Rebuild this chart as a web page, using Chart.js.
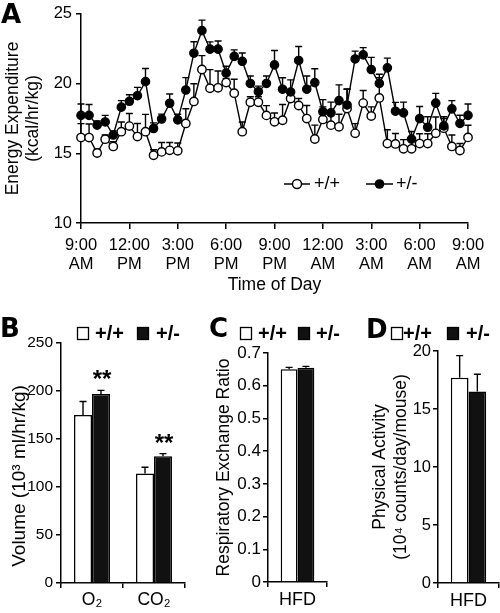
<!DOCTYPE html>
<html><head><meta charset="utf-8">
<script src="https://cdn.jsdelivr.net/npm/chart.js@4"></script>
<style>
html,body{margin:0;padding:0;background:#fff;}
#wrap{position:relative;width:500px;height:613px;overflow:hidden;background:#fff}
canvas{position:absolute;}
</style></head><body>
<div id="wrap">
<canvas id="cA" width="500" height="300" style="left:0;top:0"></canvas>
<canvas id="cB" width="190" height="313" style="left:0;top:300px"></canvas>
<canvas id="cC" width="165" height="313" style="left:190px;top:300px"></canvas>
<canvas id="cD" width="145" height="313" style="left:355px;top:300px"></canvas>
</div>
<script>
const FONT = '"Liberation Sans", Arial, Helvetica, sans-serif';
const LETTER_FONT = 'bold 26px "DejaVu Sans", "Liberation Sans", Arial, sans-serif';
const LEG_FONT = 'bold 20px "Liberation Sans", Arial, sans-serif';

// ---------- Panel A data ----------
const timeLabels = ["9:00 AM","9:30 AM","10:00 AM","10:30 AM","11:00 AM","11:30 AM",
  "12:00 PM","12:30 PM","1:00 PM","1:30 PM","2:00 PM","2:30 PM",
  "3:00 PM","3:30 PM","4:00 PM","4:30 PM","5:00 PM","5:30 PM",
  "6:00 PM","6:30 PM","7:00 PM","7:30 PM","8:00 PM","8:30 PM",
  "9:00 PM","9:30 PM","10:00 PM","10:30 PM","11:00 PM","11:30 PM",
  "12:00 AM","12:30 AM","1:00 AM","1:30 AM","2:00 AM","2:30 AM",
  "3:00 AM","3:30 AM","4:00 AM","4:30 AM","5:00 AM","5:30 AM",
  "6:00 AM","6:30 AM","7:00 AM","7:30 AM","8:00 AM","8:30 AM","9:00 AM"];
const tickEvery = 6;
const eeWT = [16.13,16.13,15.02,16.01,15.49,16.55,16.95,16.2,16.55,14.86,15.1,15.21,15.18,
  17.14,18.72,21.01,19.66,19.7,20.07,19.31,16.55,18.66,18.66,17.72,17.26,17.37,18.93,18.43,
  17.49,16.02,17.43,17.02,16.9,18.21,16.43,18.6,17.67,18.97,15.7,15.67,15.32,15.32,15.7,
  15.7,16.43,16.8,15.49,15.2,16.14];
const eeWTErr = [1.0,0.97,0.25,0.3,0.35,0.7,0.9,0.94,1.24,0.4,0.68,0.56,0.56,1.06,1.27,1.0,
  1.34,1.2,0.3,1.0,0.7,0.4,0.4,0.7,0.63,1.13,0.3,0.5,0.94,1.0,0.9,1.06,0.9,1.4,0.7,0.9,0.66,
  1.45,0.99,0.75,0.66,0.66,0.7,0.7,1.17,0.7,0.82,0.5,0.87];
const eeHet = [17.72,17.72,17.02,17.25,16.31,18.31,18.73,19.13,20.14,16.78,17.46,18.59,17.4,
  19.54,22.18,23.8,22.47,22.47,20.75,21.95,21.6,20.01,19.42,20.01,21.34,19.6,19.4,21.66,
  19.6,20.07,17.98,17.9,18.78,18.47,21.77,22.06,21.01,20.01,21.13,18.02,17.9,16.02,17.49,
  16.87,18.6,16.96,18.19,17.14,17.72];
const eeHetErr = [0.82,0.78,0.3,0.47,0.3,0.47,0.47,0.6,0.94,0.4,0.35,0.66,0.4,0.89,0.82,0.75,
  0.52,0.59,0.5,0.47,0.59,0.54,0.4,0.54,1.03,0.82,0.87,1.0,0.94,0.99,0.87,0.77,1.13,1.13,
  0.56,0.52,0.87,0.66,0.7,0.63,0.77,0.54,0.87,0.75,0.7,0.66,0.59,0.59,0.82];
const eeTicks = [10, 15, 20, 25];

// ---------- Panel B data ----------
const volCategories = ["O\u2082", "CO\u2082"];
const volWT = [175, 114];
const volWTErr = [14, 6.5];
const volHet = [197, 132];
const volHetErr = [3.6, 2.8];
const volSignif = ["**", "**"];

// ---------- Panel C data ----------
const dietCategories = ["HFD"];
const rerWT = [0.650];
const rerWTErr = [0.006];
const rerHet = [0.655];
const rerHetErr = [0.004];

// ---------- Panel D data ----------
const paWT = [17.7];
const paWTErr = [1.9];
const paHet = [16.5];
const paHetErr = [1.5];

const genotypes = ["+/+", "+/-"];

// ---------- helpers ----------
function drawErrors(chart, cap, width) {
  const ctx = chart.ctx;
  chart.data.datasets.forEach((ds, di) => {
    if (!ds.errorBars) return;
    const meta = chart.getDatasetMeta(di);
    const ys = chart.scales[meta.yAxisID];
    ctx.save();
    ctx.strokeStyle = '#000'; ctx.lineWidth = width;
    meta.data.forEach((el, i) => {
      const v = ds.data[i], e = ds.errorBars[i];
      const x = el.x, y0 = ys.getPixelForValue(v), y1 = ys.getPixelForValue(v + e);
      ctx.beginPath();
      ctx.moveTo(x, y0); ctx.lineTo(x, y1);
      ctx.moveTo(x - cap, y1); ctx.lineTo(x + cap, y1);
      ctx.stroke();
    });
    ctx.restore();
  });
}
function errPlugin(cap, width, under) {
  return {
    id: 'errbars',
    beforeDatasetsDraw(chart) { if (under) drawErrors(chart, cap, width); },
    afterDatasetsDraw(chart) { if (!under) drawErrors(chart, cap, width); }
  };
}
function decor(fn) { return { id: 'decor', afterDraw(chart) { fn(chart.ctx, chart); } }; }
function txt(ctx, s, x, y, font, align, base, rot) {
  ctx.save(); ctx.font = font; ctx.fillStyle = '#000';
  ctx.textAlign = align || 'left'; ctx.textBaseline = base || 'alphabetic';
  ctx.translate(x, y); if (rot) ctx.rotate(rot);
  ctx.fillText(s, 0, 0); ctx.restore();
}
function box(ctx, x, y, w, h, fill) {
  ctx.save(); ctx.fillStyle = fill; ctx.fillRect(x, y, w, h);
  ctx.strokeStyle = '#000'; ctx.lineWidth = 1.3; ctx.strokeRect(x + 0.5, y + 0.5, w - 1, h - 1);
  ctx.restore();
}
function barLegend(ctx, wx, tx, bx, tx2, yTop) {
  box(ctx, wx, yTop, 12, 13, '#fff');
  txt(ctx, genotypes[0], tx, yTop + 13, LEG_FONT);
  box(ctx, bx, yTop, 12, 13, '#111');
  txt(ctx, genotypes[1], tx2, yTop + 13, LEG_FONT);
}
function axisCommon(extra) {
  return Object.assign({
    grid: { display: true, drawOnChartArea: false, drawTicks: true, tickLength: 5, color: '#000', lineWidth: 1.5 },
    border: { display: true, color: '#000', width: 1.5 }
  }, extra);
}

Chart.defaults.font.family = FONT;
Chart.defaults.color = '#000';

// ---------- Chart A ----------
new Chart(document.getElementById('cA'), {
  type: 'line',
  data: {
    labels: timeLabels,
    datasets: [
      { label: genotypes[1], data: eeHet, errorBars: eeHetErr, borderColor: '#000', borderWidth: 1.4,
        pointRadius: 4.2, pointBackgroundColor: '#000', pointBorderColor: '#000', pointBorderWidth: 1.2,
        tension: 0, order: 1 },
      { label: genotypes[0], data: eeWT, errorBars: eeWTErr, borderColor: '#000', borderWidth: 1.4,
        pointRadius: 4.2, pointBackgroundColor: '#fff', pointBorderColor: '#000', pointBorderWidth: 1.4,
        tension: 0, order: 2 }
    ]
  },
  options: {
    responsive: false, animation: false, devicePixelRatio: 1,
    layout: { padding: { left: 0, right: 32, top: 10, bottom: 0 } },
    plugins: { legend: { display: false }, tooltip: { enabled: false } },
    scales: {
      x: axisCommon({
        type: 'category', offset: false,
        grid: { display: true, drawOnChartArea: false, drawTicks: true, tickLength: 6, lineWidth: 1.5,
          color: '#000', tickColor: (c) => (c.index % tickEvery === 0 ? '#000' : 'rgba(0,0,0,0)') },
        ticks: { autoSkip: false, maxRotation: 0, minRotation: 0, padding: 7.5,
          font: { size: 16.5, lineHeight: 1.12 },
          callback: function (v, i) { return i % tickEvery === 0 ? this.getLabelForValue(v).split(' ') : ''; } },
        title: { display: true, text: 'Time of Day', font: { size: 17.5, lineHeight: 1.15 }, padding: { top: 0, bottom: 5 } },
        afterFit(s) { s.height = 77; }
      }),
      y: axisCommon({
        min: 10, max: 25,
        afterBuildTicks(s) { s.ticks = eeTicks.map(v => ({ value: v })); },
        ticks: { padding: 4, font: { size: 16.5 } },
        title: { display: true, text: ['Energy Expenditure', '(kcal/hr/kg)'], font: { size: 17.5, lineHeight: 1.12 }, padding: { top: 3.5, bottom: 0 } },
        afterFit(s) { s.width = 81; }
      })
    }
  },
  plugins: [errPlugin(3.5, 1.4, true), decor((ctx) => {
    txt(ctx, 'A', 1, 23, LETTER_FONT);
    const ly = 184;
    ctx.save(); ctx.strokeStyle = '#000'; ctx.lineWidth = 1.4;
    ctx.beginPath(); ctx.moveTo(284, ly); ctx.lineTo(310, ly); ctx.moveTo(366, ly); ctx.lineTo(393, ly); ctx.stroke();
    ctx.beginPath(); ctx.arc(297, ly, 4.5, 0, Math.PI * 2); ctx.fillStyle = '#fff'; ctx.fill(); ctx.stroke();
    ctx.beginPath(); ctx.arc(379.5, ly, 4.8, 0, Math.PI * 2); ctx.fillStyle = '#000'; ctx.fill();
    ctx.restore();
    txt(ctx, genotypes[0], 314, ly, '18px ' + FONT, 'left', 'middle');
    txt(ctx, genotypes[1], 396, ly, '18px ' + FONT, 'left', 'middle');
  })]
});

// ---------- bar chart factory ----------
function barChart(id, cats, wt, wtErr, het, hetErr, cfg) {
  return new Chart(document.getElementById(id), {
    type: 'bar',
    data: {
      labels: cats,
      datasets: [
        { label: genotypes[0], data: wt, errorBars: wtErr, backgroundColor: '#fff', borderColor: '#000', borderWidth: 1.5 },
        { label: genotypes[1], data: het, errorBars: hetErr, backgroundColor: '#111', borderColor: '#000', borderWidth: 1.5 }
      ]
    },
    options: {
      responsive: false, animation: false, devicePixelRatio: 1,
      layout: { padding: { left: 0, right: cfg.padRight, top: cfg.padTop, bottom: 0 } },
      datasets: { bar: { categoryPercentage: cfg.catPct, barPercentage: 1.0 } },
      plugins: { legend: { display: false }, tooltip: { enabled: false } },
      scales: {
        x: axisCommon({
          ticks: { padding: cfg.xPad, font: { size: cfg.xFont } },
          afterFit(s) { s.height = cfg.xHeight; }
        }),
        y: axisCommon({
          min: 0, max: cfg.max,
          afterBuildTicks(s) { s.ticks = cfg.ticks.map(v => ({ value: v })); },
          ticks: { padding: cfg.yPad, font: { size: cfg.yFont } },
          title: { display: !!cfg.title, text: cfg.title || '', font: { size: cfg.tFont, lineHeight: cfg.tLH }, padding: { top: cfg.tPad, bottom: 0 } },
          afterFit(s) { s.width = cfg.yWidth; }
        })
      }
    },
    plugins: [errPlugin(3.5, 1.4, false), decor(cfg.decor)]
  });
}

const volTitle = 'Volume (10\u00B3 ml/hr/kg)';
barChart('cB', volCategories, volWT, volWTErr, volHet, volHetErr, {
  padRight: 5, padTop: 43, catPct: 0.58, xPad: 2, xFont: 17.5, xHeight: 30,
  max: 250, ticks: [0, 50, 100, 150, 200, 250], yPad: 3, yFont: 15.5,
  title: null, yWidth: 61,
  decor: (ctx, chart) => {
    txt(ctx, 'B', 0, 37, LETTER_FONT);
    barLegend(ctx, 77, 95, 137, 156, 27);
    txt(ctx, volTitle, 19.5, 176, '19px ' + FONT, 'center', 'middle', -Math.PI / 2);
    const meta = chart.getDatasetMeta(1), ys = chart.scales.y;
    meta.data.forEach((el, i) => {
      const top = ys.getPixelForValue(volHet[i] + volHetErr[i]);
      txt(ctx, volSignif[i], el.x + 1, top - 3, 'bold 24px ' + FONT, 'center');
    });
  }
});

barChart('cC', dietCategories, rerWT, rerWTErr, rerHet, rerHetErr, {
  padRight: 28, padTop: 53, catPct: 0.57, xPad: 2, xFont: 18, xHeight: 31,
  max: 0.7, ticks: [0, 0.1, 0.2, 0.3, 0.4, 0.5, 0.6, 0.7], yPad: 2, yFont: 17,
  title: 'Respiratory Exchange Ratio', tFont: 17.5, tLH: 1.2, tPad: 23.5, yWidth: 78,
  decor: (ctx) => {
    txt(ctx, 'C', 19, 37, LETTER_FONT);
    barLegend(ctx, 50, 68, 108, 126, 27);
  }
});

barChart('cD', dietCategories, paWT, paWTErr, paHet, paHetErr, {
  padRight: 1, padTop: 51, catPct: 0.58, xPad: 2, xFont: 18, xHeight: 30,
  max: 20, ticks: [0, 5, 10, 15, 20], yPad: 2, yFont: 16.5,
  title: ['Physical Activity', '(10\u2074 counts/day/mouse)'], tFont: 17.5, tLH: 1.21, tPad: 14.4, yWidth: 83,
  decor: (ctx) => {
    txt(ctx, 'D', 11, 38, LETTER_FONT);
    barLegend(ctx, 36, 48, 92, 111, 27);
  }
});
</script>
</body></html>
